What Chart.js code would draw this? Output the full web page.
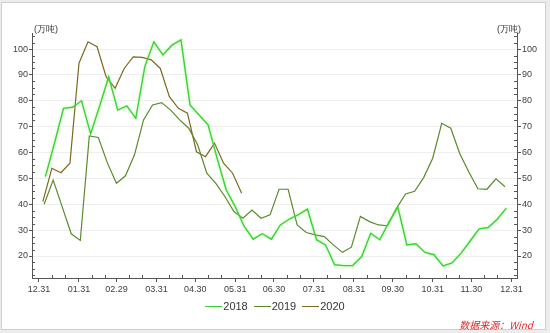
<!DOCTYPE html>
<html><head><meta charset="utf-8">
<script src="https://cdn.jsdelivr.net/npm/chart.js@4/dist/chart.umd.min.js"></script>
<style>
html,body{margin:0;padding:0;background:#ececec;width:550px;height:333px;overflow:hidden;}
#panel{position:absolute;left:1px;top:2px;width:543px;height:326px;background:#fff;border:1px solid #cfcfcf;}
#c{position:absolute;left:0;top:0;}
.unit{position:absolute;top:23px;font:9px "Liberation Sans",Arial,sans-serif;color:#333;}
#legend{position:absolute;top:300px;left:0;width:550px;display:flex;justify-content:center;gap:6px;font:11px "Liberation Sans",Arial,sans-serif;color:#333;}
#legend .it{display:flex;align-items:center;}
#legend .sw{width:17px;height:0;border-top:1.5px solid;margin-right:1px;}
#src{position:absolute;right:17px;top:317px;font:italic 10px "Noto Sans CJK SC",sans-serif;color:#e02a2a;}
</style></head>
<body>
<div id="panel"></div>
<canvas id="c" width="550" height="333"></canvas>
<div class="unit" style="left:34px">(万吨)</div>
<div class="unit" style="left:497px">(万吨)</div>
<div id="legend"></div>
<div id="src">数据来源：Wind</div>
<script>
// ---- data ----
const monthEndDays = [0, 31, 60, 91, 121, 152, 182, 213, 244, 274, 305, 335, 366];
const tickLabels = ['12.31','01.31','02.29','03.31','04.30','05.31','06.30','07.31','08.31','09.30','10.31','11.30','12.31'];
const yTicks = [20, 30, 40, 50, 60, 70, 80, 90, 100];
const seriesNames = ['2018', '2019', '2020'];
const seriesColors = ['#3ad23a', '#5a8a2c', '#7d6820'];
const seriesStartDay = [5, 4, 3]; // first weekly observation (day of year)
const values2018 = [50.7, 63.6, 77.1, 77.5, 80, 67.2, 78, 89.3, 76.4, 78, 73.2, 93.2, 102.8, 97.7, 101.5, 103.5, 78.4, 74.5, 70.7, 57.8, 45.6, 39.1, 31.4, 26.5, 28.6, 26.5, 32, 34.3, 36, 38.1, 26.3, 24.3, 16.6, 16.3, 16.3, 19.8, 28.8, 26.3, 33, 38.9, 24.3, 24.7, 21.4, 20.5, 16.2, 17.3, 21.1, 25.8, 30.5, 31, 34.2, 38.5];
const values2019 = [40, 49.4, 39, 28.6, 26, 66.4, 65.8, 56, 48.1, 51, 59.1, 72.6, 78.4, 79.3, 76.4, 72.6, 69.4, 62.9, 52, 48.1, 43, 37.2, 34.6, 37.8, 34.6, 35.9, 45.8, 45.8, 32, 29.1, 28.2, 27.5, 24.3, 21.4, 23.4, 35.3, 33.3, 32, 31.7, 38.5, 44, 45, 50.3, 57.8, 71.3, 69.4, 59.5, 52.5, 46, 45.8, 49.8, 46.8];
const values2020 = [41, 53.9, 52.2, 55.9, 94.5, 102.8, 100.9, 89.3, 84.8, 92.5, 97, 96.8, 95.8, 92.5, 81.6, 77.1, 75.2, 60.3, 58.4, 63.6, 55.9, 52, 44.3];
const seriesValues = [values2018, values2019, values2020];

// legend
const lg = document.getElementById('legend');
seriesNames.forEach((n, k) => {
  const it = document.createElement('div'); it.className = 'it';
  const sw = document.createElement('span'); sw.className = 'sw'; sw.style.borderTopColor = seriesColors[k];
  const tx = document.createElement('span'); tx.textContent = n;
  it.appendChild(sw); it.appendChild(tx); lg.appendChild(it);
});

const FONT = '"Liberation Sans", Arial, sans-serif';
const AX = '#555555';

const datasets = seriesNames.map((n, k) => ({
  label: n,
  data: seriesValues[k].map((v, i) => ({ x: seriesStartDay[k] + 7 * i, y: v })),
  borderColor: seriesColors[k],
  borderWidth: k === 0 ? 1.4 : 1.2,
  pointRadius: 0,
  tension: 0,
  fill: false
}));

const glowPlugin = {
  id: 'glow',
  beforeDatasetDraw(chart, args) {
    if (args.index === 0) {
      const c = chart.ctx; c.save();
      c.shadowColor = 'rgba(150,235,110,0.7)'; c.shadowBlur = 3;
    }
  },
  afterDatasetDraw(chart, args) {
    if (args.index === 0) chart.ctx.restore();
  }
};

const minorPlugin = {
  id: 'minor',
  afterDraw(chart) {
    const c = chart.ctx, a = chart.chartArea;
    const x = chart.scales.x, y = chart.scales.y;
    c.save(); c.strokeStyle = AX; c.lineWidth = 1;
    c.beginPath();
    for (let k = 0; k < monthEndDays.length - 1; k++) {
      [10, 20].forEach(d => {
        const px = Math.round(x.getPixelForValue(monthEndDays[k] + d)) + 0.5;
        c.moveTo(px, a.bottom); c.lineTo(px, a.bottom - 3);
      });
    }
    for (let v = 12.5; v <= 106; v += 2.5) {
      if (v % 10 === 0) continue;
      const py = Math.round(y.getPixelForValue(v)) + 0.5;
      c.moveTo(a.left, py); c.lineTo(a.left + 3, py);
      c.moveTo(a.right, py); c.lineTo(a.right - 3, py);
    }
    c.stroke(); c.restore();
  }
};

function yScale(pos, w, grid) {
  return {
    type: 'linear', position: pos, min: 11.5, max: 106.2,
    afterBuildTicks: s => { s.ticks = yTicks.map(v => ({ value: v })); },
    afterFit: s => { s.width = w; },
    grid: grid,
    border: { display: true, color: AX, width: 1 },
    ticks: { padding: 1, color: '#404040', font: { size: 9, family: FONT } }
  };
}

new Chart(document.getElementById('c'), {
  type: 'line',
  data: { datasets },
  plugins: [glowPlugin, minorPlugin],
  options: {
    responsive: false, animation: false, devicePixelRatio: 1,
    layout: { padding: { top: 33, left: 0, right: 0, bottom: 0 } },
    plugins: { legend: { display: false }, tooltip: { enabled: false } },
    scales: {
      x: {
        type: 'linear', min: -5.4, max: 370.3,
        afterBuildTicks: s => { s.ticks = monthEndDays.map(v => ({ value: v })); },
        afterFit: s => { s.height = 55; },
        grid: { drawOnChartArea: false, drawTicks: true, tickLength: 4, tickColor: AX },
        border: { display: true, color: AX, width: 1 },
        ticks: { autoSkip: false, maxRotation: 0, padding: 2, color: '#404040',
                 font: { size: 9, family: FONT }, callback: (v, i) => tickLabels[i] }
      },
      y: yScale('left', 32, { color: '#efefef', tickColor: AX, tickLength: 3 }),
      y2: yScale('right', 33, { drawOnChartArea: false, tickColor: AX, tickLength: 4 })
    }
  }
});
</script>
</body></html>
